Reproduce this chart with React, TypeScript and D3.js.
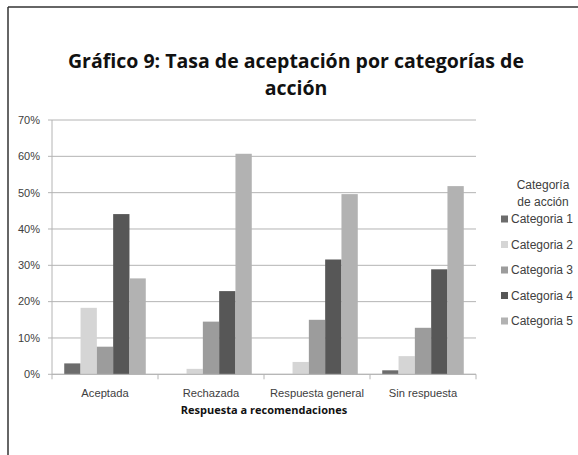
import React from "react";
import * as d3 from "d3";

const categories = ["Aceptada", "Rechazada", "Respuesta general", "Sin respuesta"];
const seriesNames = ["Categoria 1", "Categoria 2", "Categoria 3", "Categoria 4", "Categoria 5"];
const cat1 = [0.03, 0.0, 0.0, 0.011];
const cat2 = [0.183, 0.015, 0.034, 0.05];
const cat3 = [0.076, 0.145, 0.15, 0.128];
const cat4 = [0.441, 0.229, 0.316, 0.289];
const cat5 = [0.264, 0.607, 0.496, 0.518];
const seriesValues = [cat1, cat2, cat3, cat4, cat5];
const seriesColors = ["#6c6c6c", "#d5d5d5", "#9c9c9c", "#575757", "#b2b2b2"];
const yTicks = [0, 0.1, 0.2, 0.3, 0.4, 0.5, 0.6, 0.7];

const W = 578;
const H = 455;
const left = 52;
const right = 476;
const top = 120;
const bottom = 374.3;

export default function App() {
  const x = d3.scaleBand<string>().domain(categories).range([left, right]).padding(0);
  const xi = d3
    .scaleBand<string>()
    .domain(seriesNames)
    .range([0, x.step()])
    .paddingInner(0)
    .paddingOuter(0.75);
  const y = d3.scaleLinear().domain([0, 0.7]).range([bottom, top]);
  const fmt = d3.format(".0%");
  const sans = "'Liberation Sans', Arial, sans-serif";
  const bold = "'Open Sans', 'Noto Sans', sans-serif";
  const tickColor = "#404040";
  const gridColor = "#b4b4b4";

  return (
    <div style={{ position: "absolute", left: 0, top: 0 }}>
      <svg width={W} height={H} style={{ display: "block", background: "#fff" }}>
        {/* frame */}
        <line x1={8} y1={7} x2={W} y2={7} stroke="#333" strokeWidth={1.5} />
        <line x1={8} y1={7} x2={8} y2={H} stroke="#333" strokeWidth={1.5} />

        {/* title */}
        <text
          x={296}
          y={68}
          textAnchor="middle"
          fontFamily={bold}
          fontWeight="bold"
          fontSize={19.5}
          fill="#111"
        >
          Gráfico 9: Tasa de aceptación por categorías de
        </text>
        <text
          x={296}
          y={95}
          textAnchor="middle"
          fontFamily={bold}
          fontWeight="bold"
          fontSize={19.5}
          fill="#111"
        >
          acción
        </text>

        {/* gridlines & y labels */}
        {yTicks.map((t) => (
          <g key={t}>
            <line
              x1={left - 4}
              x2={right}
              y1={y(t)}
              y2={y(t)}
              stroke={gridColor}
              strokeWidth={1}
            />
            <text
              x={40}
              y={y(t)}
              dy="0.35em"
              textAnchor="end"
              fontFamily={sans}
              fontSize={11}
              fill={tickColor}
            >
              {fmt(t)}
            </text>
          </g>
        ))}
        <line x1={left} x2={left} y1={top} y2={bottom} stroke={gridColor} strokeWidth={1} />

        {/* bars */}
        {categories.map((c, ci) => (
          <g key={c}>
            {seriesNames.map((s, si) => {
              const v = seriesValues[si][ci];
              if (v <= 0) return null;
              return (
                <rect
                  key={s}
                  x={(x(c) as number) + (xi(s) as number)}
                  y={y(v)}
                  width={xi.bandwidth()}
                  height={y(0) - y(v)}
                  fill={seriesColors[si]}
                />
              );
            })}
          </g>
        ))}

        {/* x axis */}
        <line x1={left} x2={right} y1={bottom} y2={bottom} stroke={gridColor} strokeWidth={1} />
        {[...categories.map((c) => x(c) as number), right].map((px, i) => (
          <line key={i} x1={px} x2={px} y1={bottom} y2={bottom + 5} stroke={gridColor} strokeWidth={1} />
        ))}
        {categories.map((c) => (
          <text
            key={c}
            x={(x(c) as number) + x.bandwidth() / 2}
            y={397}
            textAnchor="middle"
            fontFamily={sans}
            fontSize={11.2}
            fill={tickColor}
          >
            {c}
          </text>
        ))}
        <text
          x={(left + right) / 2}
          y={414}
          textAnchor="middle"
          fontFamily={bold}
          fontWeight="bold"
          fontSize={11}
          fill="#111"
        >
          Respuesta a recomendaciones
        </text>

        {/* legend */}
        <text x={543} y={185} dy="0.35em" textAnchor="middle" fontFamily={sans} fontSize={12} fill={tickColor}>
          Categoría
        </text>
        <text x={543} y={201.5} dy="0.35em" textAnchor="middle" fontFamily={sans} fontSize={12} fill={tickColor}>
          de acción
        </text>
        {seriesNames.map((s, si) => {
          const cy = 219 + si * 25.5;
          return (
            <g key={s}>
              <rect x={501} y={cy - 3.5} width={7} height={7} fill={seriesColors[si]} />
              <text x={511} y={cy} dy="0.35em" fontFamily={sans} fontSize={12} fill={tickColor}>
                {s}
              </text>
            </g>
          );
        })}
      </svg>
    </div>
  );
}
